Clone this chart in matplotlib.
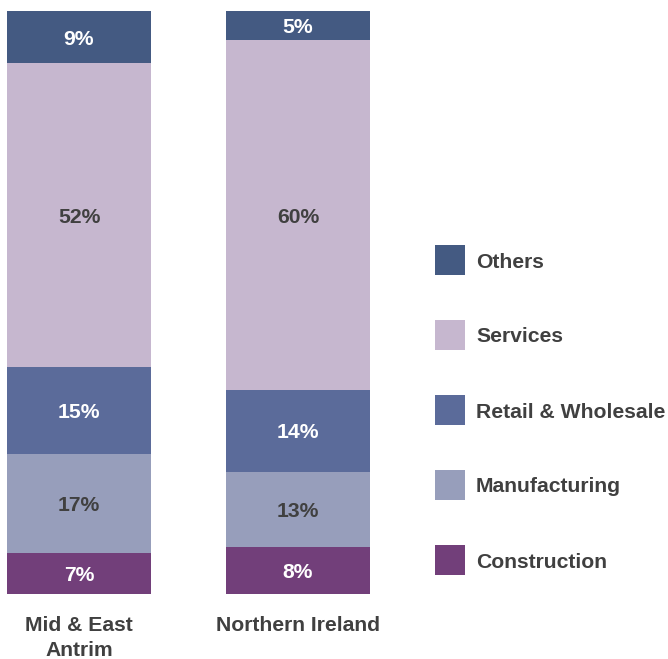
import matplotlib
matplotlib.use("Agg")
import matplotlib.pyplot as plt
from matplotlib.patches import Rectangle

regions = ["Mid & East\nAntrim", "Northern Ireland"]
sectors = ["Construction", "Manufacturing", "Retail & Wholesale", "Services", "Others"]
construction = [7, 8]
manufacturing = [17, 13]
retail = [15, 14]
services = [52, 60]
others = [9, 5]
values = [construction, manufacturing, retail, services, others]
colors = ["#723F7A", "#979EBB", "#5B6B9A", "#C6B7CF", "#445A82"]
label_colors = ["white", "#404040", "white", "#404040", "white"]

plt.rcParams['font.family'] = ['Liberation Sans', 'DejaVu Sans']
W, H = 668, 659
fs = 15.2
fig = plt.figure(figsize=(W / 100, H / 100), dpi=100)
ax = fig.add_axes([0, (H - 594) / H, 380 / W, 583 / H])

x = [0, 1]
bw = 144 / 219
bottoms = [0, 0]
for vals, col, lc in zip(values, colors, label_colors):
    ax.bar(x, vals, bw, bottom=bottoms, color=col, edgecolor="none")
    for xi, v, b in zip(x, vals, bottoms):
        ax.text(xi, b + v / 2, f"{v}%", ha="center", va="center_baseline",
                color=lc, fontsize=fs, fontweight="bold")
    bottoms = [b + v for b, v in zip(bottoms, vals)]

ax.set_xlim(-79 / 219, (380 - 79) / 219)
ax.set_ylim(0, 100)
ax.axis("off")

for xi, name in zip(x, regions):
    ax.text(xi, -3.7, name, ha="center", va="top", color="#404040",
            fontsize=fs, fontweight="bold", linespacing=1.45)

# legend
leg_y = [560, 485, 410, 335, 260]
for name, col, yc in zip(sectors, colors, leg_y):
    fig.patches.append(Rectangle((435 / W, (H - yc - 15) / H), 30 / W, 30 / H,
                                 transform=fig.transFigure, facecolor=col,
                                 edgecolor="none"))
    fig.text(476 / W, (H - yc) / H, name, ha="left", va="center_baseline",
             color="#404040", fontsize=fs, fontweight="bold")

fig.savefig("out.png", dpi=100)
